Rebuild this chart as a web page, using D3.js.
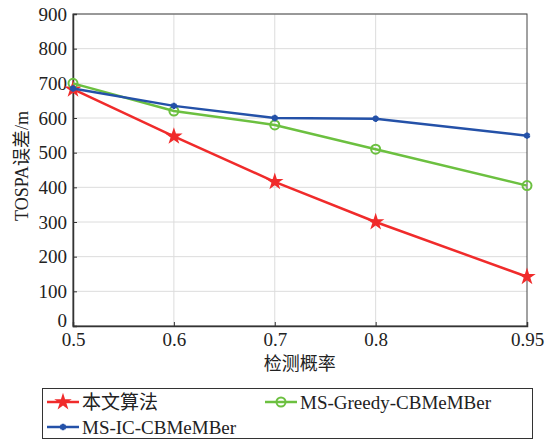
<!DOCTYPE html>
<html>
<head>
<meta charset="utf-8">
<script src="https://cdn.jsdelivr.net/npm/d3@7"></script>
<style>
body { margin: 0; background: #fff; }
text { font-family: "Liberation Serif", "Noto Sans CJK SC", serif; fill: #222; }
</style>
</head>
<body>
<div class="chart"></div>
<script>
// data
const probs = [0.5, 0.6, 0.7, 0.8, 0.95];
const xTicks = [0.5, 0.6, 0.7, 0.8, 0.95];
const yTicks = [0, 100, 200, 300, 400, 500, 600, 700, 800, 900];
const oursVals = [683, 547, 416, 300, 142];
const greedyVals = [700, 620, 580, 510, 405];
const icVals = [685, 635, 600, 598, 549];

const svgWidth = 548;
const svgHeight = 442;
const margin = { top: 14, right: 21, bottom: 116, left: 73 };
const width = svgWidth - margin.left - margin.right;
const height = svgHeight - margin.top - margin.bottom;

const svg = d3.select(".chart").append("svg")
    .attr("width", svgWidth)
    .attr("height", svgHeight);

const chartGroup = svg.append("g")
    .attr("transform", `translate(${margin.left}, ${margin.top})`);

const x = d3.scaleLinear().domain([0.5, 0.95]).range([0, width]);
const y = d3.scaleLinear().domain([0, 900]).range([height, 0]);

// grid
chartGroup.append("g")
    .selectAll("line.hg")
    .data(yTicks.slice(1))
    .enter().append("line")
    .attr("x1", 0).attr("x2", width)
    .attr("y1", d => y(d)).attr("y2", d => y(d))
    .attr("stroke", "#dcdcdc").attr("stroke-width", 1);
chartGroup.append("g")
    .selectAll("line.vg")
    .data(xTicks.slice(1, -1))
    .enter().append("line")
    .attr("y1", 0).attr("y2", height)
    .attr("x1", d => x(d)).attr("x2", d => x(d))
    .attr("stroke", "#dcdcdc").attr("stroke-width", 1);

// frame
chartGroup.append("rect")
    .attr("width", width).attr("height", height)
    .attr("fill", "none").attr("stroke", "#444").attr("stroke-width", 1);

// axes
const bottomAxis = d3.axisBottom(x).tickValues(xTicks).tickSize(-4).tickPadding(7)
    .tickFormat(d => String(d));
const leftAxis = d3.axisLeft(y).tickValues(yTicks).tickSize(-4).tickPadding(6);

const xAxis = chartGroup.append("g")
    .attr("transform", `translate(0,${height})`)
    .call(bottomAxis);
const yAxis = chartGroup.append("g").call(leftAxis);

[xAxis, yAxis].forEach(a => {
    a.select(".domain").attr("stroke", "#333").attr("stroke-width", 1.5);
    a.selectAll(".tick line").attr("stroke", "#333");
    a.selectAll("text").style("font-size", "19px").attr("fill", "#222");
});
// lift the "0" label a bit so it clears "0.5"
yAxis.selectAll(".tick text").filter(d => d === 0).attr("dy", "0.05em");

chartGroup.append("text")
    .attr("x", x(0.7) + 25).attr("y", height + 44)
    .attr("text-anchor", "middle")
    .style("font-size", "18px")
    .text("检测概率");

chartGroup.append("text")
    .attr("transform", "rotate(-90)")
    .attr("x", -(166 - margin.top)).attr("y", -45)
    .attr("text-anchor", "middle")
    .style("font-size", "18px")
    .text("TOSPA误差/m");

// series
const series = [
    { name: "本文算法", vals: oursVals, color: "#f02b2b", marker: "star" },
    { name: "MS-Greedy-CBMeMBer", vals: greedyVals, color: "#6cc040", marker: "circle" },
    { name: "MS-IC-CBMeMBer", vals: icVals, color: "#2451a8", marker: "x" }
];

const line = d3.line().x(d => x(d[0])).y(d => y(d[1]));

function drawMarker(g, type, color, cx, cy) {
    if (type === "star") {
        g.append("path")
            .attr("d", d3.symbol().type(d3.symbolStar).size(95)())
            .attr("transform", `translate(${cx},${cy})`)
            .attr("fill", color);
    } else if (type === "circle") {
        g.append("circle")
            .attr("cx", cx).attr("cy", cy).attr("r", 4.5)
            .attr("fill", "none").attr("stroke", color).attr("stroke-width", 2);
    } else {
        g.append("path")
            .attr("d", d3.symbol().type(d3.symbolAsterisk).size(28)())
            .attr("transform", `translate(${cx},${cy})`)
            .attr("stroke", color).attr("stroke-width", 2.5);
    }
}

series.forEach(s => {
    const pts = probs.map((p, i) => [p, s.vals[i]]);
    chartGroup.append("path")
        .datum(pts)
        .attr("d", line)
        .attr("fill", "none")
        .attr("stroke", s.color)
        .attr("stroke-width", 2.5);
    const mg = chartGroup.append("g");
    pts.forEach(p => drawMarker(mg, s.marker, s.color, x(p[0]), y(p[1])));
});

// legend
const legend = svg.append("g");
legend.append("rect")
    .attr("x", 42.5).attr("y", 388.5).attr("width", 490).attr("height", 50)
    .attr("fill", "#fff").attr("stroke", "#333").attr("stroke-width", 1);

const legendPos = [
    { s: series[0], lx: 47, ly: 402 },
    { s: series[1], lx: 265, ly: 402 },
    { s: series[2], lx: 47, ly: 427 }
];
legendPos.forEach(l => {
    legend.append("line")
        .attr("x1", l.lx).attr("x2", l.lx + 32)
        .attr("y1", l.ly).attr("y2", l.ly)
        .attr("stroke", l.s.color).attr("stroke-width", 2.5);
    drawMarker(legend, l.s.marker, l.s.color, l.lx + 16, l.ly);
    legend.append("text")
        .attr("x", l.lx + 35).attr("y", l.ly + 7)
        .style("font-size", "19px")
        .text(l.s.name);
});
</script>
</body>
</html>
